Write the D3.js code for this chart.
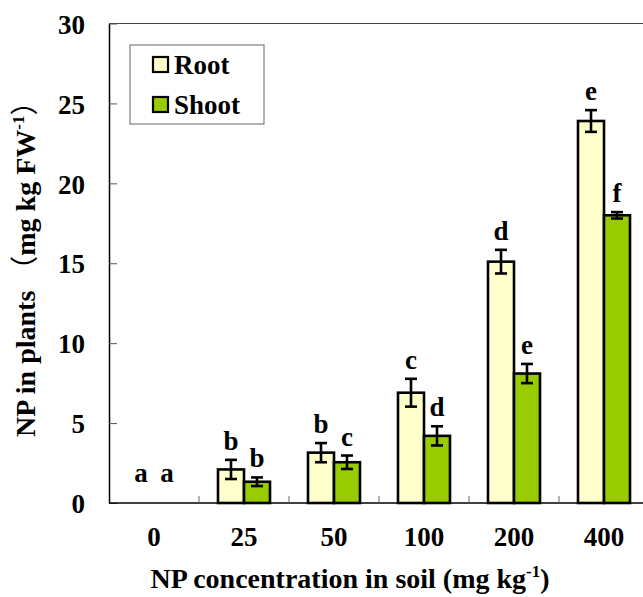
<!DOCTYPE html>
<html>
<head>
<meta charset="utf-8">
<script src="https://cdn.jsdelivr.net/npm/d3@7/dist/d3.min.js"></script>
<style>
  html, body { margin: 0; padding: 0; background: #fff; }
  svg { display: block; }
  text { font-family: "Liberation Serif", "Times New Roman", serif; font-weight: bold; fill: #000; }
  .cjk { font-family: "Noto Sans CJK SC", sans-serif; font-weight: normal; }
</style>
</head>
<body>
<div id="chart"></div>
<script>
// NP content in root and shoot tissue at each soil NP concentration
const categories = ["0", "25", "50", "100", "200", "400"];
const seriesNames = ["Root", "Shoot"];
const rootMean  = [0, 2.1, 3.15, 6.9, 15.1, 23.9];
const rootErr   = [0, 0.6, 0.6, 0.87, 0.74, 0.68];
const shootMean = [0, 1.33, 2.55, 4.2, 8.1, 18.0];
const shootErr  = [0, 0.27, 0.42, 0.6, 0.6, 0.2];
const rootLetters  = ["a", "b", "b", "c", "d", "e"];
const shootLetters = ["a", "b", "c", "d", "e", "f"];
const yTicks = [0, 5, 10, 15, 20, 25, 30];

const W = 643, H = 597;
const margin = { left: 109, top: 23.5, bottom: 94 };
const plotW = 540;
const plotH = H - margin.top - margin.bottom;
const fs = "27px";

const colors = { Root: "#ffffcc", Shoot: "#99cc00" };

const svg = d3.select("#chart").append("svg")
  .attr("width", W).attr("height", H);

const x = d3.scaleBand().domain(categories)
  .range([margin.left, margin.left + plotW]).padding(0);
const xInner = d3.scaleBand().domain(seriesNames)
  .range([0, 52]);
const y = d3.scaleLinear().domain([0, 30])
  .range([margin.top + plotH, margin.top]);

const rows = categories.map((c, i) => ({
  cat: c,
  items: [
    { s: "Root",  mean: rootMean[i],  err: rootErr[i],  letter: rootLetters[i] },
    { s: "Shoot", mean: shootMean[i], err: shootErr[i], letter: shootLetters[i] }
  ]
}));

// frame: top border line
svg.append("line")
  .attr("x1", margin.left).attr("x2", margin.left + plotW)
  .attr("y1", y(30)).attr("y2", y(30))
  .attr("stroke", "#444").attr("stroke-width", 1.2);

// y axis with inward ticks
const yAxis = svg.append("g")
  .attr("transform", `translate(${margin.left},0)`)
  .call(d3.axisLeft(y).tickValues(yTicks).tickSizeInner(-8).tickSizeOuter(0).tickPadding(24));
yAxis.select(".domain").attr("stroke", "#000").attr("stroke-width", 1.5);
yAxis.selectAll(".tick line").attr("stroke", "#555").attr("stroke-width", 1);
yAxis.selectAll(".tick text")
  .style("font-family", '"Liberation Serif", serif').style("font-weight", "bold")
  .style("font-size", fs).attr("fill", "#000").attr("dy", "0.36em");

// x axis: baseline plus inner ticks at category boundaries
const xAxisY = y(0);
svg.append("line")
  .attr("x1", margin.left).attr("x2", margin.left + plotW)
  .attr("y1", xAxisY).attr("y2", xAxisY)
  .attr("stroke", "#000").attr("stroke-width", 1.5);
svg.append("g").selectAll("line")
  .data(categories.slice(1))
  .join("line")
  .attr("x1", d => x(d)).attr("x2", d => x(d))
  .attr("y1", xAxisY).attr("y2", xAxisY - 7)
  .attr("stroke", "#666").attr("stroke-width", 1);
svg.append("g").selectAll("text")
  .data(categories)
  .join("text")
  .attr("x", d => x(d) + x.bandwidth() / 2)
  .attr("y", 546)
  .attr("text-anchor", "middle")
  .style("font-size", fs)
  .text(d => d);

// bars, error bars and significance letters
const groups = svg.append("g").selectAll("g")
  .data(rows)
  .join("g")
  .attr("transform", d => `translate(${x(d.cat) + x.bandwidth() / 2 - 26},0)`);

const items = groups.selectAll("g.item")
  .data(d => d.items)
  .join("g").attr("class", "item")
  .attr("transform", d => `translate(${xInner(d.s)},0)`);

items.filter(d => d.mean > 0).append("rect")
  .attr("x", 0)
  .attr("width", xInner.bandwidth())
  .attr("y", d => y(d.mean))
  .attr("height", d => y(0) - y(d.mean))
  .attr("fill", d => colors[d.s])
  .attr("stroke", "#000").attr("stroke-width", 2.6);

const cx = xInner.bandwidth() / 2;
const eb = items.filter(d => d.err > 0).append("g")
  .attr("stroke", "#000").attr("stroke-width", 2.6);
eb.append("line")
  .attr("x1", cx).attr("x2", cx)
  .attr("y1", d => y(d.mean + d.err)).attr("y2", d => y(d.mean - d.err));
eb.append("line")
  .attr("x1", cx - 6).attr("x2", cx + 6)
  .attr("y1", d => y(d.mean + d.err)).attr("y2", d => y(d.mean + d.err));
eb.append("line")
  .attr("x1", cx - 6).attr("x2", cx + 6)
  .attr("y1", d => y(d.mean - d.err)).attr("y2", d => y(d.mean - d.err));

items.append("text")
  .attr("x", cx)
  .attr("y", d => d.mean > 0 ? y(d.mean + d.err) - 10 : y(0) - 21)
  .attr("text-anchor", "middle")
  .style("font-size", fs)
  .text(d => d.letter);

// axis titles
svg.append("text")
  .attr("x", 350).attr("y", 588)
  .attr("text-anchor", "middle")
  .style("font-size", "28px")
  .html('NP concentration in soil (mg kg<tspan dy="-11" style="font-size:17px">-1</tspan><tspan dy="11">)</tspan>');

svg.append("text")
  .attr("transform", "translate(35,437) rotate(-90)")
  .attr("text-anchor", "start")
  .style("font-size", "28px")
  .html('NP in plants <tspan class="cjk">（</tspan>mg kg FW<tspan dy="-11" style="font-size:17px">-1</tspan><tspan dy="11" class="cjk">）</tspan>');

// legend
const legend = svg.append("g");
legend.append("rect")
  .attr("x", 130).attr("y", 45).attr("width", 134).attr("height", 79)
  .attr("fill", "#fff").attr("stroke", "#666").attr("stroke-width", 1);
const li = legend.selectAll("g.li")
  .data(seriesNames)
  .join("g").attr("class", "li")
  .attr("transform", (d, i) => `translate(153,${57 + i * 40})`);
li.append("rect")
  .attr("width", 15).attr("height", 15)
  .attr("fill", d => colors[d])
  .attr("stroke", "#000").attr("stroke-width", 2.2);
li.append("text")
  .attr("x", 21).attr("y", 17)
  .style("font-size", fs)
  .text(d => d);
</script>
</body>
</html>
